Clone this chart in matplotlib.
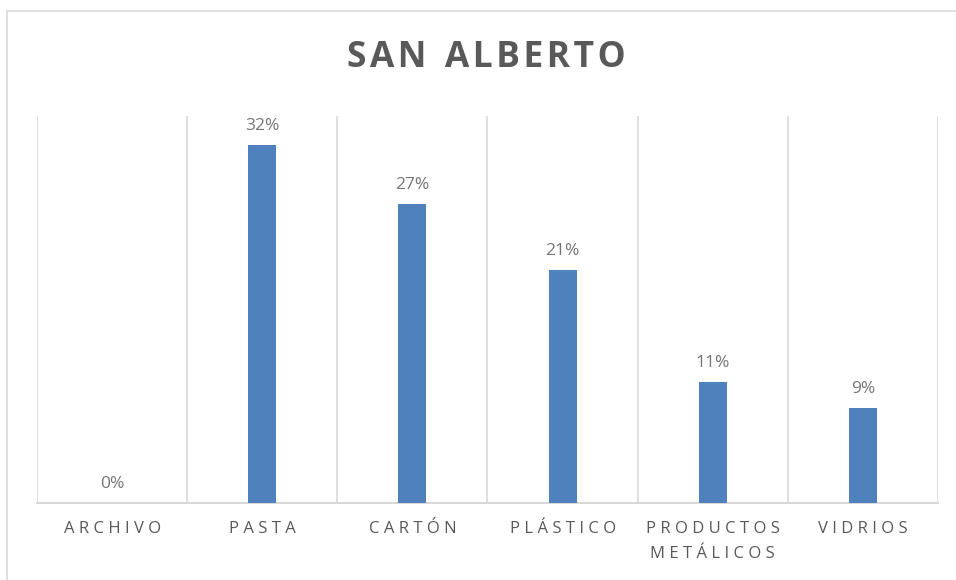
import numpy as np
import matplotlib.pyplot as plt
from matplotlib.patches import Rectangle

# Data
categories = ["ARCHIVO", "PASTA", "CARTÓN", "PLÁSTICO", "PRODUCTOS\nMETÁLICOS", "VIDRIOS"]
values = [0.0, 32.4, 27.0, 21.1, 10.9, 8.6]
labels = ["0%", "32%", "27%", "21%", "11%", "9%"]
title = "SAN ALBERTO"

BAR_COLOR = "#4F81BD"
GRID_COLOR = "#D9D9D9"
TEXT_COLOR = "#595959"

plt.rcParams['font.family'] = ['Open Sans', 'DejaVu Sans']


def spaced(s, sep=" "):
    # imitate letter spacing of the original chart
    return "\n".join(sep.join(line) for line in s.split("\n"))


fig = plt.figure(figsize=(9.56, 5.8), dpi=100)
fig.patches.append(Rectangle((7 / 956, -0.05), 1.2, 1 - 11 / 580 + 0.05,
                             transform=fig.transFigure, fill=False,
                             edgecolor=GRID_COLOR, linewidth=1.2))

ax = fig.add_axes([37 / 956, 1 - 503 / 580, (938 - 37) / 956, (503 - 116) / 580])
x = np.arange(len(categories))
ax.bar(x, values, width=0.187, color=BAR_COLOR, zorder=3)

for xi, v, lab in zip(x, values, labels):
    ax.annotate(lab, (xi, v), xytext=(0, 8), textcoords="offset points",
                ha="center", va="bottom", fontsize=12.5, color="#757575")

ax.set_xlim(-0.5, len(categories) - 0.5)
ax.set_ylim(0, 35)
ax.set_yticks([])
ax.set_xticks(x)
ax.set_xticklabels([spaced(c) for c in categories], fontsize=12,
                   color=TEXT_COLOR, linespacing=1.75)
ax.tick_params(axis="x", length=0, pad=13)
ax.set_xticks(np.arange(-0.5, len(categories)), minor=True)
ax.tick_params(axis="x", which="minor", length=0)
ax.grid(axis="x", which="minor", color=GRID_COLOR, linewidth=1.2, zorder=0)

for side in ["top", "left", "right"]:
    ax.spines[side].set_visible(False)
ax.spines["bottom"].set_color(GRID_COLOR)
ax.spines["bottom"].set_linewidth(1.5)

title_txt = "  ".join(spaced(w, "\u200a") for w in title.split(" "))
fig.text(486 / 956, 1 - 58 / 580, title_txt,
         ha="center", va="center", fontsize=25.5, fontweight="bold", color=TEXT_COLOR)

fig.savefig("out.png", dpi=100)
